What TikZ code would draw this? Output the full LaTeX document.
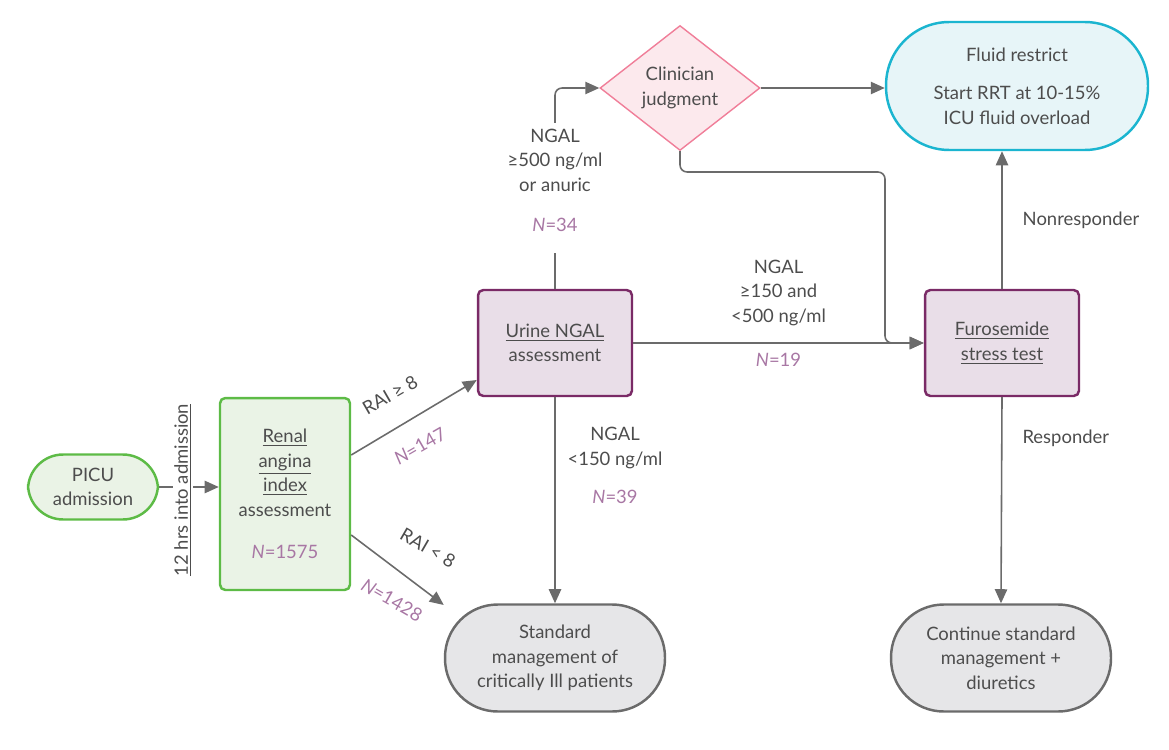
\documentclass[tikz,border=0pt]{standalone}
\usepackage{fontspec}
\setmainfont{Lato}
\usetikzlibrary{shapes.geometric, arrows.meta, positioning}
\definecolor{txt}{HTML}{4D4D4D}
\definecolor{nclr}{HTML}{A877A4}
\definecolor{grn}{HTML}{5DBB46}
\definecolor{grnfill}{HTML}{EAF3E6}
\definecolor{plum}{HTML}{7A2A66}
\definecolor{plumfill}{HTML}{E9DEE8}
\definecolor{pink}{HTML}{F07E99}
\definecolor{pinkfill}{HTML}{FCE9ED}
\definecolor{cyan}{HTML}{1BB5D0}
\definecolor{cyanfill}{HTML}{E7F5F8}
\definecolor{gry}{HTML}{6B6B6B}
\definecolor{gryfill}{HTML}{E6E6E8}
\tikzset{
  base/.style={text=txt, align=center, font=\fontsize{10.5}{14}\selectfont, line width=1.4pt},
  capsule/.style={base, rectangle, rounded corners=20pt},
  start/.style={capsule, draw=grn, fill=grnfill, minimum width=2.6cm, minimum height=1.3cm},
  rai/.style={base, rectangle, rounded corners=3pt, draw=grn, fill=grnfill, minimum width=2.6cm, minimum height=3.84cm},
  test/.style={base, rectangle, rounded corners=3pt, draw=plum, fill=plumfill, minimum width=3.08cm, minimum height=2.12cm},
  judge/.style={base, diamond, aspect=1.3, draw=pink, fill=pinkfill, line width=0.8pt, inner sep=2pt, minimum width=3.2cm, minimum height=2.5cm},
  restrict/.style={capsule, rounded corners=36pt, draw=cyan, fill=cyanfill, minimum width=5.24cm, minimum height=2.56cm},
  outcome/.style={capsule, rounded corners=30pt, draw=gry, fill=gryfill, minimum width=4.4cm, minimum height=2.14cm},
  arrow/.style={draw=gry, line width=0.9pt, -{Triangle[length=8pt,width=7pt]}},
  lbl/.style={text=txt, align=center, font=\fontsize{10.5}{14}\selectfont},
  nlbl/.style={text=nclr, font=\fontsize{10.5}{14}\selectfont}
}
\newcommand{\ul}[1]{\underline{#1}}
\begin{document}
\begin{tikzpicture}[x=0.02cm, y=-0.02cm]
\useasboundingbox (0,0) rectangle (1169,750);

% Nodes
\node (picu) [start] at (93,487) {PICU\\admission};
\node (renal) [rai] at (285,494) {\ul{Renal}\\\ul{angina}\\\ul{index}\\assessment\\[10pt]{\color{nclr}\textit{N}=1575}};
\node (ngal) [test] at (555,343) {\ul{Urine NGAL}\\assessment};
\node (fst) [test] at (1002,343) {\ul{Furosemide}\\\ul{stress test}};
\node (judg) [judge] at (680,88) {Clinician\\judgment};
\node (fluid) [restrict] at (1017,86) {Fluid restrict\\[8pt]Start RRT at 10-15\%\\ICU fluid overload};
\node (std) [outcome] at (555,658) {Standard\\management of\\critically Ill patients};
\node (cont) [outcome] at (1001,658) {Continue standard\\management +\\diuretics};
\coordinate (bend) at (885,172);

% Connectors
\draw [arrow] (picu) -- (picu -| renal.west);
\node (hrs) [lbl, fill=white, rotate=90, inner sep=1pt] at (183,490) {\ul{12 hrs into admission}};
\draw [arrow] (renal.east |- 0,455) -- (ngal.south west |- 0,380);
\node (hirai) [lbl, rotate=30] at (390,395) {RAI ≥ 8};
\node (n147) [nlbl, rotate=30] at (420,446) {\textit{N}=147};
\draw [arrow] (renal.east |- 0,535) -- (std.north west |- 0,605);
\node (lorai) [lbl, rotate=-30] at (428,548) {RAI < 8};
\node (n1428) [nlbl, rotate=-30] at (392,600) {\textit{N}=1428};
\draw [arrow, rounded corners=4pt] (ngal.north) |- (judg.west);
\node (hilbl) [lbl, fill=white] at (555,160) {NGAL\\≥500 ng/ml\\or anuric};
\node (n34) [nlbl, fill=white, inner ysep=12pt] at (555,225) {\textit{N}=34};
\draw [arrow] (judg.east) -- (fluid.west |- judg.east);
\draw [arrow, rounded corners=4pt] (judg.south) |- (bend) |- (fst.west);
\draw [arrow] (ngal.east) -- node [lbl, above=6pt] {NGAL\\≥150 and\\<500 ng/ml} node [nlbl, below=2pt] {\textit{N}=19} (fst.west);
\draw [arrow] (ngal.south) -- (std.north);
\node (lolbl) [lbl] at (615,448) {NGAL\\<150 ng/ml};
\node (n39) [nlbl] at (615,497) {\textit{N}=39};
\draw [arrow] (fst.north) -- node [lbl, right=8pt] {Nonresponder} (fst.north |- fluid.south);
\draw [arrow] (fst.south) -- node [lbl, right=8pt, pos=0.2] {Responder} (cont.north);
\end{tikzpicture}
\end{document}
